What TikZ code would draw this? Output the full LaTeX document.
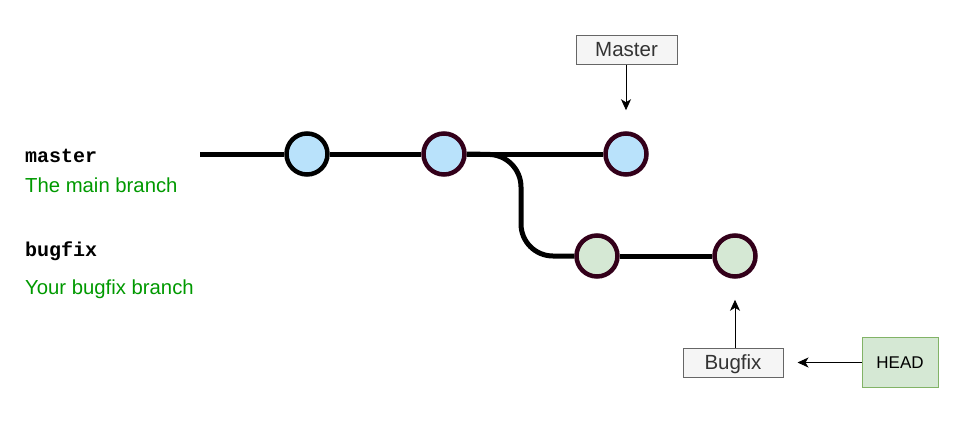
\documentclass[tikz,border=0pt]{standalone}
\usepackage{fontspec}
\setmainfont{Liberation Sans}
\setmonofont{Liberation Mono}
\usepackage{xcolor}
\usetikzlibrary{arrows.meta, positioning}

\definecolor{commitblue}{HTML}{B9E2FB}
\definecolor{commitgreen}{HTML}{D5E8D4}
\definecolor{commitedge}{HTML}{33001A}
\definecolor{labelfill}{HTML}{F5F5F5}
\definecolor{labeledge}{HTML}{666666}
\definecolor{labeltext}{HTML}{333333}
\definecolor{headedge}{HTML}{82B366}
\definecolor{branchgreen}{HTML}{009900}

\begin{document}
\begin{tikzpicture}[
    x=1pt, y=-1pt,
    commit/.style={circle, draw=commitedge, line width=4.5pt, minimum size=41pt, inner sep=0pt},
    refbox/.style={rectangle, draw=labeledge, fill=labelfill, line width=1pt, minimum height=29pt, minimum width=100pt, inner sep=0pt, text height=14.7pt, text depth=0pt, text=labeltext, font=\fontsize{20.5}{24}\selectfont},
    headbox/.style={rectangle, draw=headedge, fill=commitgreen, line width=1pt, minimum height=50pt, minimum width=76pt, inner sep=0pt, font=\fontsize{17}{20}\selectfont},
    branchname/.style={anchor=base west, inner sep=0pt, font=\ttfamily\bfseries\fontsize{20}{24}\selectfont},
    branchnote/.style={anchor=base west, inner sep=0pt, text=branchgreen, font=\fontsize{20.3}{24}\selectfont},
    branch/.style={line width=5pt},
    arrow/.style={-{Stealth[length=11pt, width=10pt, inset=3pt]}, line width=1pt}
]
\useasboundingbox (0,0) rectangle (967,442);

% commits
\node[commit, draw=black, fill=commitblue] (c1) at (307,154) {};
\node[commit, fill=commitblue] (c2) at (444,154) {};
\node[commit, fill=commitblue] (c3) at (626,154) {};
\node[commit, fill=commitgreen] (b1) at (597,256) {};
\node[commit, fill=commitgreen] (b2) at (735,256) {};
\coordinate (start) at (200,154);

% branch labels
\node[branchname] (master) at (25,162) {master};
\node[branchnote] (mainnote) at (25,192) {The main branch};
\node[branchname] (bugfix) at (25,256) {bugfix};
\node[branchnote] (bugnote) at (25,294) {Your bugfix branch};

% refs
\node[refbox, minimum width=101pt] (mref) at (626.5,49.5) {Master};
\node[refbox] (bref) at (733,362.5) {Bugfix};
\node[headbox] (head) at (900,362.5) {HEAD};

\draw[branch] (start) -- (c1);
\draw[branch] (c1) -- (c2);
\draw[branch] (c2) -- (c3);
\draw[branch, rounded corners=32pt] (c2.east) -- (521,155) -- (521,256) -- (b1.west);
\draw[branch] (b1) -- (b2);

\draw[arrow, shorten >=21pt] (mref.south -| c3) -- (c3);
\draw[arrow, shorten >=21pt] (bref.north -| b2) -- (b2);
\draw[arrow, shorten >=14pt] (head) -- (bref);
\end{tikzpicture}
\end{document}
